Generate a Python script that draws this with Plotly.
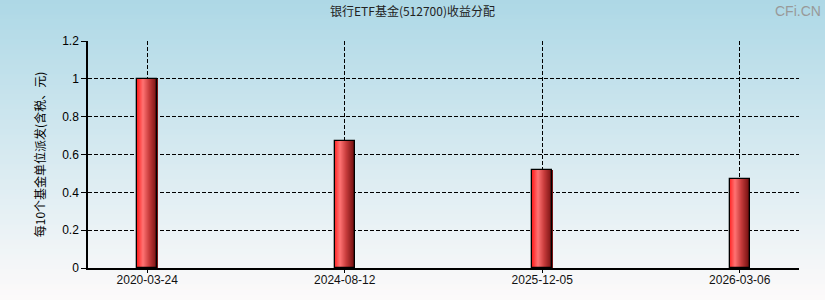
import plotly.graph_objects as go

dates = ["2020-03-24", "2024-08-12", "2025-12-05", "2026-03-06"]
values = [1.0, 0.67, 0.52, 0.47]
y_ticks = [0, 0.2, 0.4, 0.6, 0.8, 1, 1.2]
y_tick_text = ["0", "0.2", "0.4", "0.6", "0.8", "1", "1.2"]

W, H = 825, 300
L, R, T, B = 88, 26, 41, 32
pw, ph = W - L - R, H - T - B

def lerp(c1, c2, t):
    return tuple(round(a + (b - a) * t) for a, b in zip(c1, c2))

fig = go.Figure()

# bar gradient via slices
stops = [(0.0, (255, 30, 30)), (0.3, (255, 115, 115)), (0.6, (200, 60, 60)), (1.0, (115, 15, 15))]
def grad(t):
    for (t0, c0), (t1, c1) in zip(stops[:-1], stops[1:]):
        if t0 <= t <= t1:
            return lerp(c0, c1, (t - t0) / (t1 - t0))
    return stops[-1][1]

bw = 0.1
n = 20
sw = bw / n
for i in range(n):
    c = grad((i + 0.5) / n)
    fig.add_trace(go.Bar(
        x=dates, y=values, width=sw * 1.05, offset=-bw / 2 + i * sw,
        marker=dict(color="rgb(%d,%d,%d)" % c, line=dict(width=0)),
        hoverinfo="skip", showlegend=False))
fig.add_trace(go.Bar(
    x=dates, y=values, width=bw, offset=-bw / 2,
    marker=dict(color="rgba(0,0,0,0)", line=dict(color="black", width=1.3)),
    showlegend=False))

# background gradient strips
top_c, bot_c = (173, 216, 230), (253, 250, 250)
ns = 60
shapes = []
for i in range(ns):
    y0 = 1 + T / ph - (i + 1) * (H / ph) / ns
    y1 = 1 + T / ph - i * (H / ph) / ns
    c = lerp(top_c, bot_c, (i + 0.5) / ns)
    shapes.append(dict(type="rect", xref="paper", yref="paper", layer="below",
                       x0=-L / pw, x1=1 + R / pw, y0=y0, y1=y1 + 0.002,
                       fillcolor="rgb(%d,%d,%d)" % c, line=dict(width=0)))

fig.update_layout(
    width=W, height=H, margin=dict(l=L, r=R, t=T, b=B),
    barmode="overlay", bargap=0,
    paper_bgcolor="white", plot_bgcolor="rgba(0,0,0,0)",
    shapes=shapes,
    title=dict(text="银行ETF基金(512700)收益分配", x=0.5, xanchor="center", y=0.975, yanchor="top",
               font=dict(family="Noto Sans CJK SC", size=12, color="#222")),
    annotations=[dict(text="CFi.CN", xref="paper", yref="paper", x=1 + (R - 2) / pw, y=1 + (T - 1) / ph,
                      xanchor="right", yanchor="top", showarrow=False,
                      font=dict(family="Liberation Sans", size=14, color="#999"))],
    xaxis=dict(type="category", range=[-0.3, 3.3], showgrid=True, gridcolor="black",
               griddash="4px,2px", gridwidth=1, showline=True, linecolor="black", linewidth=1.5,
               ticks="outside", ticklen=3, tickcolor="black", automargin=False,
               ticklabelstandoff=-3,
               tickfont=dict(family="Liberation Sans", size=12, color="#111")),
    yaxis=dict(range=[0, 1.2], tickvals=y_ticks, ticktext=y_tick_text, showgrid=True,
               gridcolor="black", griddash="4px,2px", gridwidth=1, zeroline=False,
               showline=True, linecolor="black", linewidth=1.5, automargin=False,
               ticks="outside", ticklen=5, tickcolor="black",
               tickfont=dict(family="Liberation Sans", size=12, color="black"),
               title=dict(text="每10个基金单位派发(含税、元)", standoff=14,
                          font=dict(family="Noto Sans CJK SC", size=12, color="black"))),
)

fig.write_html("out.html")
